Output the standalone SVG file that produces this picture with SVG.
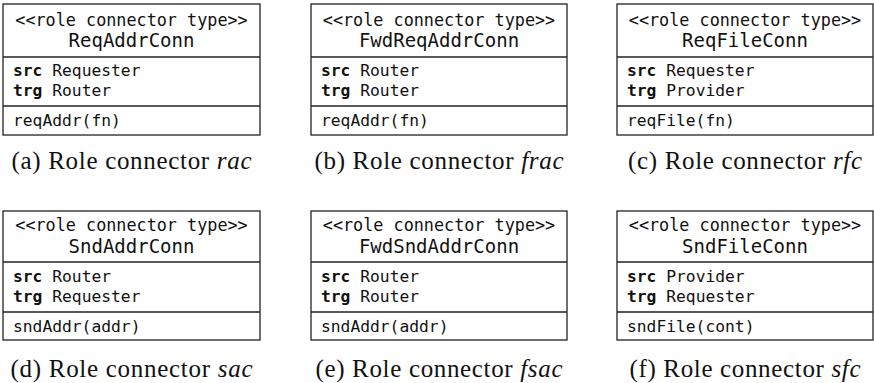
<svg xmlns="http://www.w3.org/2000/svg" width="874" height="383" viewBox="0 0 874 383">
<style>
.box{fill:#fff;stroke:#222;stroke-width:1.3}
.sep{stroke:#222;stroke-width:1.3}
.st{font-family:"DejaVu Sans Mono","Liberation Mono",monospace;font-size:16.8px;fill:#111;text-anchor:middle}
.ti{font-family:"DejaVu Sans Mono","Liberation Mono",monospace;font-size:19px;fill:#111;text-anchor:middle}
.at{font-family:"DejaVu Sans Mono","Liberation Mono",monospace;font-size:16.3px;fill:#111}
.kw{font-weight:bold}
.cap{font-family:"Liberation Serif","Times New Roman",serif;font-size:25px;fill:#111;text-anchor:middle}
.it{font-style:italic}
</style>
<rect width="874" height="383" fill="#fff"/>
<g id="rac">
<rect class="box" x="3" y="4" width="257" height="131"/>
<line class="sep" x1="3" y1="57" x2="260" y2="57"/>
<line class="sep" x1="3" y1="106" x2="260" y2="106"/>
<text class="st" x="131.5" y="26">&lt;&lt;role connector type&gt;&gt;</text>
<text class="ti" x="131.5" y="47">ReqAddrConn</text>
<text class="at" x="13" y="76"><tspan class="kw">src</tspan> Requester</text>
<text class="at" x="13" y="96"><tspan class="kw">trg</tspan> Router</text>
<text class="at" x="13" y="126">reqAddr(fn)</text>
<text class="cap" x="131.5" y="169" textLength="240">(a) Role connector <tspan class="it">rac</tspan></text>
</g>
<g id="frac">
<rect class="box" x="311" y="4" width="256" height="131"/>
<line class="sep" x1="311" y1="57" x2="567" y2="57"/>
<line class="sep" x1="311" y1="106" x2="567" y2="106"/>
<text class="st" x="439" y="26">&lt;&lt;role connector type&gt;&gt;</text>
<text class="ti" x="439" y="47">FwdReqAddrConn</text>
<text class="at" x="321" y="76"><tspan class="kw">src</tspan> Router</text>
<text class="at" x="321" y="96"><tspan class="kw">trg</tspan> Router</text>
<text class="at" x="321" y="126">reqAddr(fn)</text>
<text class="cap" x="439" y="169" textLength="249">(b) Role connector <tspan class="it">frac</tspan></text>
</g>
<g id="rfc">
<rect class="box" x="617" y="4" width="256" height="131"/>
<line class="sep" x1="617" y1="57" x2="873" y2="57"/>
<line class="sep" x1="617" y1="106" x2="873" y2="106"/>
<text class="st" x="745" y="26">&lt;&lt;role connector type&gt;&gt;</text>
<text class="ti" x="745" y="47">ReqFileConn</text>
<text class="at" x="627" y="76"><tspan class="kw">src</tspan> Requester</text>
<text class="at" x="627" y="96"><tspan class="kw">trg</tspan> Provider</text>
<text class="at" x="627" y="126">reqFile(fn)</text>
<text class="cap" x="745" y="169" textLength="234">(c) Role connector <tspan class="it">rfc</tspan></text>
</g>
<g id="sac">
<rect class="box" x="3" y="211" width="257" height="129"/>
<line class="sep" x1="3" y1="262" x2="260" y2="262"/>
<line class="sep" x1="3" y1="312" x2="260" y2="312"/>
<text class="st" x="131.5" y="231">&lt;&lt;role connector type&gt;&gt;</text>
<text class="ti" x="131.5" y="253">SndAddrConn</text>
<text class="at" x="13" y="282"><tspan class="kw">src</tspan> Router</text>
<text class="at" x="13" y="302"><tspan class="kw">trg</tspan> Requester</text>
<text class="at" x="13" y="332">sndAddr(addr)</text>
<text class="cap" x="131.5" y="377" textLength="242">(d) Role connector <tspan class="it">sac</tspan></text>
</g>
<g id="fsac">
<rect class="box" x="311" y="211" width="256" height="129"/>
<line class="sep" x1="311" y1="262" x2="567" y2="262"/>
<line class="sep" x1="311" y1="312" x2="567" y2="312"/>
<text class="st" x="439" y="231">&lt;&lt;role connector type&gt;&gt;</text>
<text class="ti" x="439" y="253">FwdSndAddrConn</text>
<text class="at" x="321" y="282"><tspan class="kw">src</tspan> Router</text>
<text class="at" x="321" y="302"><tspan class="kw">trg</tspan> Router</text>
<text class="at" x="321" y="332">sndAddr(addr)</text>
<text class="cap" x="439" y="377" textLength="247">(e) Role connector <tspan class="it">fsac</tspan></text>
</g>
<g id="sfc">
<rect class="box" x="617" y="211" width="256" height="129"/>
<line class="sep" x1="617" y1="262" x2="873" y2="262"/>
<line class="sep" x1="617" y1="312" x2="873" y2="312"/>
<text class="st" x="745" y="231">&lt;&lt;role connector type&gt;&gt;</text>
<text class="ti" x="745" y="253">SndFileConn</text>
<text class="at" x="627" y="282"><tspan class="kw">src</tspan> Provider</text>
<text class="at" x="627" y="302"><tspan class="kw">trg</tspan> Requester</text>
<text class="at" x="627" y="332">sndFile(cont)</text>
<text class="cap" x="745" y="377" textLength="231">(f) Role connector <tspan class="it">sfc</tspan></text>
</g>
</svg>
